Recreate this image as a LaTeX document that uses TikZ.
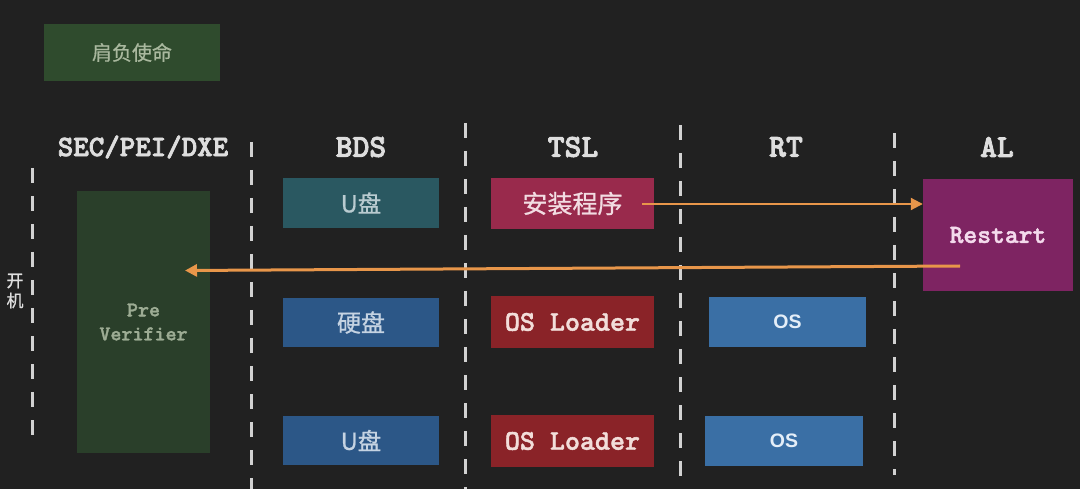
\documentclass[tikz,border=0pt]{standalone}
\usepackage{fontspec}
\usetikzlibrary{arrows.meta}
\newfontfamily\cjk{Noto Sans CJK SC}[FakeBold=0.8]
\newfontfamily\monof{lmmonolt10-bold.otf}[FakeBold=1.6]
\newfontfamily\monoh{lmmonolt10-bold.otf}[FakeBold=2.6]
\newfontfamily\sansf{Liberation Sans}
\definecolor{bg}{HTML}{212121}
\definecolor{dashc}{HTML}{D2D2D2}
\definecolor{hdr}{HTML}{DEDEDE}
\definecolor{missionbg}{HTML}{2F4B2D}
\definecolor{missiontx}{HTML}{A9B89E}
\definecolor{prebg}{HTML}{2A3F2A}
\definecolor{pretx}{HTML}{9DAC94}
\definecolor{tealbg}{HTML}{2A5861}
\definecolor{tealtx}{HTML}{B9CBD0}
\definecolor{bluebg}{HTML}{2C5787}
\definecolor{bluetx}{HTML}{C5D3E2}
\definecolor{instbg}{HTML}{992A4C}
\definecolor{insttx}{HTML}{F2DCE2}
\definecolor{loadbg}{HTML}{8A2328}
\definecolor{loadtx}{HTML}{F2DEDA}
\definecolor{osbg}{HTML}{3A6FA5}
\definecolor{ostx}{HTML}{E4EEF8}
\definecolor{rsbg}{HTML}{7E2462}
\definecolor{rstx}{HTML}{F4DAEC}
\definecolor{arrc}{HTML}{E8964A}
\begin{document}
\begin{tikzpicture}[x=1pt,y=-1pt,
  blk/.style={inner sep=0pt, minimum width=#1},
  hdrtext/.style={text=hdr, font=\monoh\fontsize{32}{36}\selectfont},
  vline/.style={draw=dashc, line width=3pt, dash pattern=on 15pt off 13pt},
  arr/.style={draw=arrc, line width=#1, -{Triangle[length=12pt,width=12pt]}},
  arr/.default=2.5pt
]
\fill[bg] (0,0) rectangle (1080,489);
\useasboundingbox (0,0) rectangle (1080,489);

% mission
\node[blk=176pt, minimum height=57pt, fill=missionbg, text=missiontx, font=\cjk\fontsize{20}{24}\selectfont] (mission) at (132,52.5) {肩负使命};

% headers
\node[hdrtext, font=\monoh\fontsize{29.5}{33}\selectfont] (hsec) at (143,147) {SEC/PEI/DXE};
\node[hdrtext] (hbds) at (361,147) {BDS};
\node[hdrtext] (htsl) at (573,147) {TSL};
\node[hdrtext] (hrt) at (786,147) {RT};
\node[hdrtext] (hal) at (997,147) {AL};

% dashed separators
\coordinate (l1a) at (32,168); \coordinate (l1b) at (32,437);
\coordinate (l2a) at (251,142); \coordinate (l2b) at (251,489);
\coordinate (l3a) at (465,123); \coordinate (l3b) at (465,489);
\coordinate (l4a) at (680,125); \coordinate (l4b) at (680,489);
\coordinate (l5a) at (894,133); \coordinate (l5b) at (894,475);
\draw[vline] (l1a) -- (l1b);
\draw[vline] (l2a) -- (l2b);
\draw[vline] (l3a) -- (l3b);
\draw[vline] (l4a) -- (l4b);
\draw[vline] (l5a) -- (l5b);

% boot label
\node[text=hdr, align=center, inner sep=0pt, font=\cjk\fontsize{17}{20}\selectfont] (boot) at (15,291) {开\\机};

% boxes
\node[blk=133pt, minimum height=262pt, fill=prebg, text=pretx, align=center, font=\monof\fontsize{21}{24}\selectfont] (prever) at (143.5,322) {Pre\\Verifier};
\node[blk=156pt, minimum height=50pt, fill=tealbg, text=tealtx, font=\cjk\fontsize{23.5}{27}\selectfont] (udisk1) at (361,203) {U盘};
\node[blk=163pt, minimum height=51pt, fill=instbg, text=insttx, font=\cjk\fontsize{25}{29}\selectfont] (install) at (572.5,203.5) {安装程序};
\node[blk=150pt, minimum height=112pt, fill=rsbg, text=rstx, font=\monof\fontsize{26.3}{30}\selectfont] (restart) at (998,235) {Restart};
\node[blk=156pt, minimum height=49pt, fill=bluebg, text=bluetx, font=\cjk\fontsize{24}{28}\selectfont] (hdd) at (361,322.5) {硬盘};
\node[blk=163pt, minimum height=52pt, fill=loadbg, text=loadtx, font=\monof\fontsize{28.6}{32}\selectfont] (loader1) at (572.5,322) {OS Loader};
\node[blk=156pt, minimum height=49pt, fill=bluebg, text=bluetx, font=\cjk\fontsize{23.5}{27}\selectfont] (udisk2) at (361,440.5) {U盘};
\node[blk=163pt, minimum height=52pt, fill=loadbg, text=loadtx, font=\monof\fontsize{28.6}{32}\selectfont] (loader2) at (572.5,441) {OS Loader};
\node[blk=157pt, minimum height=50pt, fill=osbg, text=ostx, font=\sansf\bfseries\fontsize{19.5}{23}\selectfont] (os1) at (787.5,322) {OS};
\node[blk=158pt, minimum height=50pt, fill=osbg, text=ostx, font=\sansf\bfseries\fontsize{19.5}{23}\selectfont] (os2) at (784,441) {OS};

% arrows
\coordinate (a1s) at (642,204);
\draw[arr=2pt] (a1s) -- (a1s -| restart.west);
\coordinate (a2s) at (960,266);
\coordinate (a2e) at (185,270.5);
\draw[arr=3pt] (a2s) -- (a2e);
\end{tikzpicture}
\end{document}
